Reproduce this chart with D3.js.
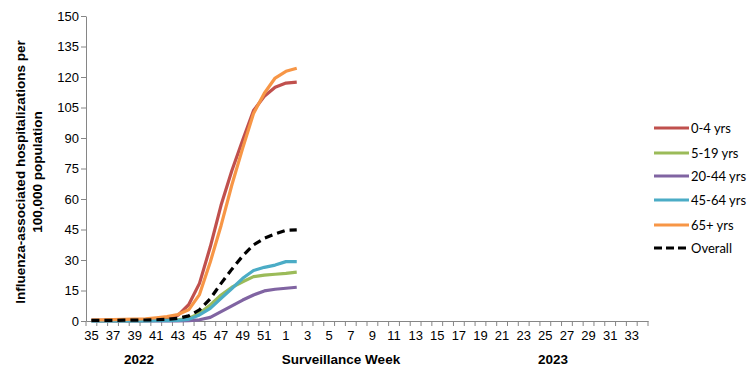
<!DOCTYPE html>
<html>
<head>
<meta charset="utf-8">
<script src="https://cdn.jsdelivr.net/npm/d3@7"></script>
<style>
  body { margin: 0; background: #fff; }
  svg { display: block; font-family: "Liberation Sans", Arial, sans-serif; }
</style>
</head>
<body>
<svg id="chart" width="756" height="378"></svg>
<script>
"use strict";

// surveillance weeks 35..52 of 2022 then 1..34 of 2023
const weeks = [35, 36, 37, 38, 39, 40, 41, 42, 43, 44, 45, 46, 47, 48, 49, 50, 51, 52,
               1, 2, 3, 4, 5, 6, 7, 8, 9, 10, 11, 12, 13, 14, 15, 16, 17, 18, 19, 20,
               21, 22, 23, 24, 25, 26, 27, 28, 29, 30, 31, 32, 33, 34];
const yTicks = [0, 15, 30, 45, 60, 75, 90, 105, 120, 135, 150];
const seriesNames = ["0-4 yrs", "5-19 yrs", "20-44 yrs", "45-64 yrs", "65+ yrs", "Overall"];

// values for weeks 35 .. 2 (reported so far)
const age0to4 = [0.3, 0.3, 0.4, 0.4, 0.5, 0.6, 0.9, 1.3, 2.8, 8, 18.5, 36.5, 57, 74, 89, 103.5, 110.5, 115, 117, 117.5];
const age5to19 = [0.1, 0.1, 0.1, 0.1, 0.1, 0.2, 0.3, 0.4, 0.6, 1.3, 3.8, 7.9, 12.8, 16.6, 19.3, 21.8, 22.6, 23, 23.4, 24];
const age20to44 = [0, 0, 0, 0, 0, 0, 0.1, 0.1, 0.1, 0.2, 0.6, 1.8, 4.6, 7.4, 10.3, 12.8, 14.8, 15.6, 16.1, 16.6];
const age45to64 = [0.1, 0.1, 0.1, 0.1, 0.1, 0.1, 0.2, 0.2, 0.3, 0.8, 3, 6.2, 11.1, 16, 21, 24.8, 26.4, 27.5, 29.2, 29.2];
const age65plus = [0.5, 0.6, 0.7, 0.8, 0.9, 1.1, 1.6, 2.2, 3.2, 5.5, 13, 29, 47, 67, 85, 102, 112, 119.5, 122.8, 124.3];
const overall = [0.3, 0.3, 0.3, 0.4, 0.4, 0.5, 0.6, 0.8, 1.3, 2.5, 5.5, 11, 18.5, 25.5, 32, 37.4, 40.7, 42.8, 44.6, 44.8];

const colors = ["#C0504D", "#9BBB59", "#8064A2", "#4BACC6", "#F79646", "#000000"];

const plotLeft = 86, plotRight = 648, plotTop = 16, plotBottom = 321;
const axisColor = "#868686";

const svg = d3.select("#chart");

const xScale = d3.scaleBand()
    .domain(d3.range(weeks.length))
    .range([plotLeft, plotRight]);
const yScale = d3.scaleLinear()
    .domain([0, 150])
    .range([plotBottom, plotTop]);

const bw = xScale.bandwidth();
const cx = i => xScale(i) + bw / 2;

// y axis
const yAxis = svg.append("g")
    .attr("transform", `translate(${plotLeft},0)`)
    .call(d3.axisLeft(yScale).tickValues(yTicks).tickSize(5).tickSizeOuter(0));
yAxis.select(".domain").attr("stroke", axisColor);
yAxis.selectAll(".tick line").attr("stroke", axisColor);
yAxis.selectAll(".tick text")
    .attr("font-size", 13)
    .attr("fill", "#000")
    .attr("font-family", "Liberation Sans, Arial, sans-serif")
    .attr("x", -7);

// x axis: labels every other week, ticks at category boundaries
const xAxis = svg.append("g")
    .attr("transform", `translate(0,${plotBottom})`)
    .call(d3.axisBottom(xScale)
        .tickSize(0)
        .tickSizeOuter(0)
        .tickFormat(i => (i % 2 === 0 ? weeks[i] : "")));
xAxis.select(".domain").attr("stroke", axisColor);
xAxis.selectAll(".tick text")
    .attr("font-size", 13)
    .attr("fill", "#000")
    .attr("font-family", "Liberation Sans, Arial, sans-serif")
    .attr("y", 10);

svg.append("g")
    .selectAll("line")
    .data(d3.range(weeks.length + 1))
    .join("line")
    .attr("x1", i => plotLeft + i * bw)
    .attr("x2", i => plotLeft + i * bw)
    .attr("y1", plotBottom)
    .attr("y2", plotBottom + 5)
    .attr("stroke", axisColor);

// axis titles
const yTitle = svg.append("text")
    .attr("transform", "translate(25,172) rotate(-90)")
    .attr("text-anchor", "middle")
    .attr("font-size", 13.5)
    .attr("font-weight", "bold");
yTitle.append("tspan").attr("x", 0).attr("dy", 0).text("Influenza-associated hospitalizations per");
yTitle.append("tspan").attr("x", 0).attr("dy", 17).text("100,000 population");

svg.append("text")
    .attr("x", 139).attr("y", 364)
    .attr("text-anchor", "middle")
    .attr("font-size", 13.5).attr("font-weight", "bold")
    .text("2022");
svg.append("text")
    .attr("x", 341).attr("y", 364)
    .attr("text-anchor", "middle")
    .attr("font-size", 13.5).attr("font-weight", "bold")
    .text("Surveillance Week");
svg.append("text")
    .attr("x", 553).attr("y", 364)
    .attr("text-anchor", "middle")
    .attr("font-size", 13.5).attr("font-weight", "bold")
    .text("2023");

// lines
const allSeries = [age0to4, age5to19, age20to44, age45to64, age65plus, overall];
const line = d3.line()
    .x((d, i) => cx(i))
    .y(d => yScale(d));

// draw order: age groups first, overall on top
allSeries.forEach((s, k) => {
    svg.append("path")
        .datum(s)
        .attr("d", line)
        .attr("fill", "none")
        .attr("stroke", colors[k])
        .attr("stroke-width", 3.2)
        .attr("stroke-linejoin", "round")
        .attr("stroke-dasharray", k === 5 ? "8,5" : null);
});

// legend
const legendY = [128, 153, 176, 200, 225, 248];
const legend = svg.append("g");
seriesNames.forEach((name, k) => {
    legend.append("line")
        .attr("x1", 654).attr("x2", 689)
        .attr("y1", legendY[k]).attr("y2", legendY[k])
        .attr("stroke", colors[k])
        .attr("stroke-width", 3.2)
        .attr("stroke-dasharray", k === 5 ? "8,4" : null);
    legend.append("text")
        .attr("x", 691).attr("y", legendY[k] + 4.5)
        .attr("font-size", 13)
        .attr("font-family", "Lato, Calibri, sans-serif")
        .text(name);
});
</script>
</body>
</html>
